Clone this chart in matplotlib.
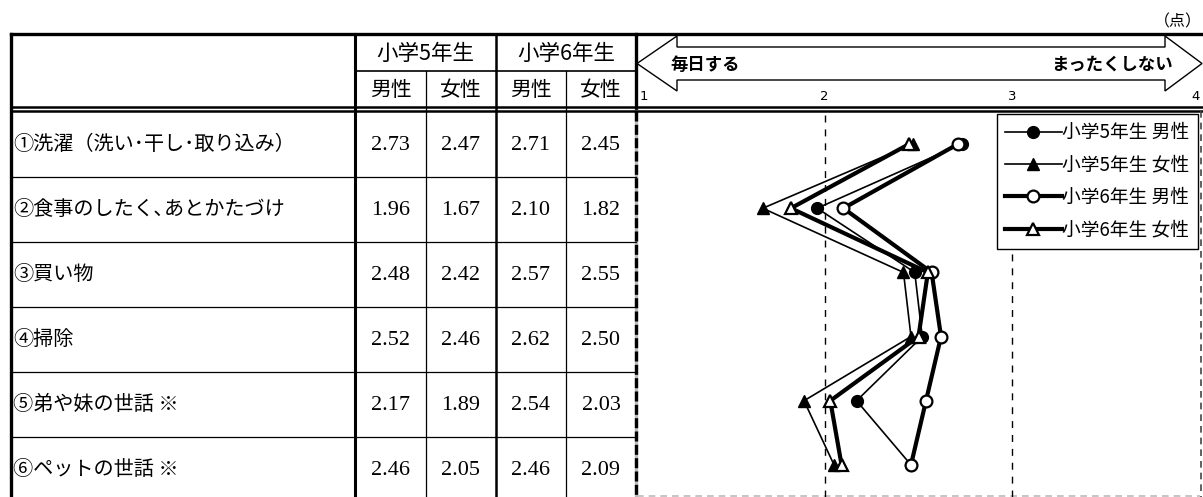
import matplotlib
matplotlib.use("Agg")
from matplotlib import pyplot as plt
from matplotlib.patches import Polygon
import numpy as np

plt.rcParams['font.family'] = ['Noto Sans CJK JP', 'DejaVu Sans']

#------ data ------
items = ['①洗濯（洗い･干し･取り込み）', '②食事のしたく､あとかたづけ', '③買い物',
         '④掃除', '⑤弟や妹の世話 ※', '⑥ペットの世話 ※']
grades = ['小学5年生', '小学6年生']
sexes = ['男性', '女性']
g5_male = [2.73, 1.96, 2.48, 2.52, 2.17, 2.46]
g5_female = [2.47, 1.67, 2.42, 2.46, 1.89, 2.05]
g6_male = [2.71, 2.10, 2.57, 2.62, 2.54, 2.46]
g6_female = [2.45, 1.82, 2.55, 2.50, 2.03, 2.09]
x_ticks = [1, 2, 3, 4]

W, H = 1203, 497
fig = plt.figure(figsize=(W / 100, H / 100), dpi=100)

# pixel-coordinate axes for the table
ax = fig.add_axes([0, 0, 1, 1])
ax.set_xlim(0, W)
ax.set_ylim(H, 0)
ax.axis('off')

top = 34
mid = 71
dbl1, dbl2 = 106.5, 110.5
body_top = 112
row_h = 65
left = 11
col_x = [355, 426, 496, 566, 636]
chart_l, chart_r = 637, 1200

# borders
ax.plot([left, W], [top, top], color='black', lw=2.4)
ax.plot([left, left], [top, H], color='black', lw=2.4)
ax.plot([col_x[0], col_x[0]], [top, H], color='black', lw=2.2)
ax.plot([col_x[2], col_x[2]], [top, H], color='black', lw=1.8)
ax.plot([col_x[1], col_x[1]], [mid, H], color='black', lw=0.9)
ax.plot([col_x[3], col_x[3]], [mid, H], color='black', lw=0.9)
ax.plot([col_x[0], col_x[4]], [mid, mid], color='black', lw=1.2)
ax.plot([col_x[4], col_x[4]], [top, dbl2], color='black', lw=2.4)
ax.plot([col_x[4], col_x[4]], [dbl2, H], color='#bbbbbb', lw=2.4)
ax.plot([col_x[4], col_x[4]], [dbl2, H], color='black', lw=2.4, dashes=(3, 1))
ax.plot([left, W], [dbl1, dbl1], color='black', lw=1.8)
ax.plot([left, W], [dbl2, dbl2], color='black', lw=1.8)
for i in range(1, 6):
    y = body_top + i * row_h
    ax.plot([left, col_x[4]], [y, y], color='black', lw=0.9)
# chart frame (dashed)
ax.plot([chart_l, chart_r], [H - 1, H - 1], color='#bbbbbb', lw=1.2, dashes=(4, 3))
ax.plot([chart_r + 1, chart_r + 1], [dbl2, H], color='#444444', lw=1.2, dashes=(4, 3))

# header texts
for j, g in enumerate(grades):
    cx = (col_x[2 * j] + col_x[2 * j + 2]) / 2
    ax.text(cx, (top + mid) / 2 + 1, g, ha='center', va='center', fontsize=15.5)
    for k, s in enumerate(sexes):
        cx2 = (col_x[2 * j + k] + col_x[2 * j + k + 1]) / 2
        ax.text(cx2, (mid + dbl1) / 2 + 1, s, ha='center', va='center', fontsize=15)

# body texts
cols = [g5_male, g5_female, g6_male, g6_female]
body_h = (H - body_top) / 6.0
for i, name in enumerate(items):
    cy = body_top + (i + 0.5) * row_h
    ax.text(left + 2, cy, name, ha='left', va='center', fontsize=14.5)
    for c, vals in enumerate(cols):
        cx = (col_x[c] + col_x[c + 1]) / 2
        ax.text(cx, cy + 1, f'{vals[i]:.2f}', ha='center', va='center',
                fontsize=16, family='Liberation Serif')

# double-headed arrow in header
acy = 63.5
head = 40
half_head = 27.5
half_shaft = 16.5
pts = [(chart_l, acy), (chart_l + head, acy - half_head), (chart_l + head, acy - half_shaft),
       (W - 1 - head + 3, acy - half_shaft), (W - 1 - head + 3, acy - half_head), (W - 1, acy),
       (W - 1 - head + 3, acy + half_head), (W - 1 - head + 3, acy + half_shaft),
       (chart_l + head, acy + half_shaft), (chart_l + head, acy + half_head)]
ax.add_patch(Polygon(pts, closed=True, facecolor='white', edgecolor='black', lw=1.0))
ax.text(670, acy + 1, '毎日する', ha='left', va='center', fontsize=12.5, fontweight='bold')
ax.text(1173, acy + 1, 'まったくしない', ha='right', va='center', fontsize=12.5, fontweight='bold')
ax.text(W - 1, 22, '（点）', ha='right', va='center', fontsize=11.5)

# chart axes (rows aligned with table body)
axc = fig.add_axes([chart_l / W, (H - body_top - 6 * body_h) / H,
                    (chart_r - chart_l) / W, 6 * body_h / H])
axc.set_xlim(1, 4)
axc.set_ylim(6, 0)
axc.axis('off')
axc.patch.set_alpha(0)

# tick labels above the chart
for t in x_ticks:
    px = chart_l + (t - 1) / 3 * (chart_r - chart_l)
    ha = 'left' if t == 1 else ('right' if t == 4 else 'center')
    if t == 1:
        px += 3
    ax.text(px, 96, str(t), ha=ha, va='center', fontsize=9.5, family='DejaVu Sans')
for t in x_ticks[1:3]:
    axc.axvline(t, color='black', lw=1.0, dashes=(5, 5))

y = np.arange(len(items)) + 0.5
axc.plot(g5_male, y, color='black', lw=1.2, marker='o', ms=8.5, mfc='black',
         mec='black', label='小学5年生 男性', zorder=3)
axc.plot(g5_female, y, color='black', lw=1.2, marker='^', ms=9, mfc='black',
         mec='black', label='小学5年生 女性', zorder=3)
axc.plot(g6_male, y, color='black', lw=3.0, marker='o', ms=8.5, mfc='white',
         mec='black', mew=1.6, label='小学6年生 男性', zorder=4)
axc.plot(g6_female, y, color='black', lw=3.0, marker='^', ms=9, mfc='white',
         mec='black', mew=1.6, label='小学6年生 女性', zorder=4)

leg = axc.legend(loc='upper right', bbox_to_anchor=(1.0, 1.0), fontsize=13.5,
                 frameon=True, fancybox=False, framealpha=1, edgecolor='black',
                 handlelength=3.0, handletextpad=0.05, labelspacing=0.6,
                 borderaxespad=0.1, borderpad=0.45)
leg.get_frame().set_linewidth(1.0)

plt.savefig('out.png', dpi=100)
